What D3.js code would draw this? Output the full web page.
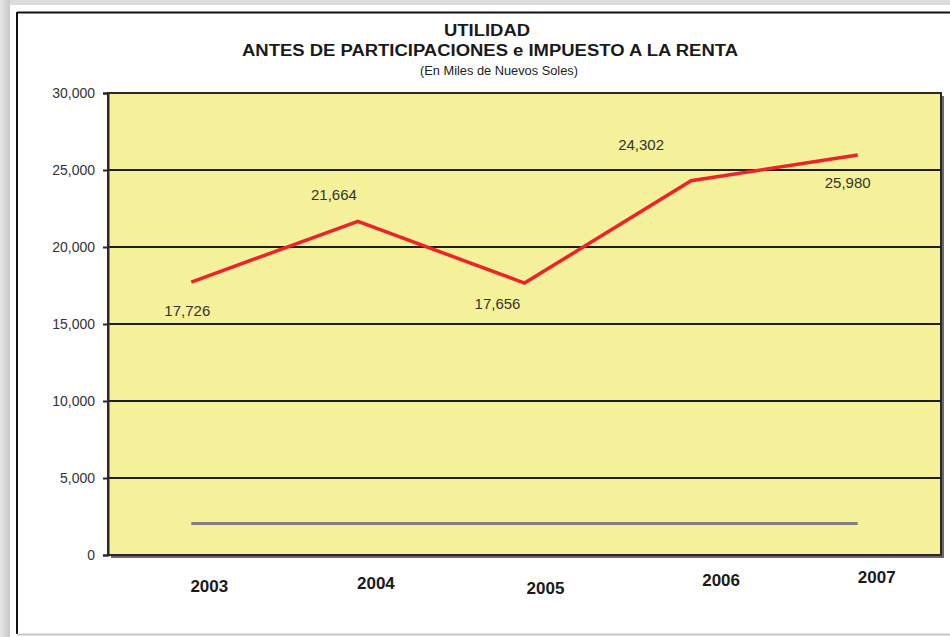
<!DOCTYPE html>
<html>
<head>
<meta charset="utf-8">
<script src="https://cdn.jsdelivr.net/npm/d3@7"></script>
<style>
  body { margin: 0; background: #fff; }
  svg text { font-family: "Liberation Sans", Arial, sans-serif; }
</style>
</head>
<body>
<svg id="chart" width="950" height="637"></svg>
<script>
// data
var years = ["2003", "2004", "2005", "2006", "2007"];
var utilidad = [17726, 21664, 17656, 24302, 25980];
var baseSerie = [2050, 2050, 2050, 2050, 2050];
var yTicks = [0, 5000, 10000, 15000, 20000, 25000, 30000];

// label nudges (excel left them scattered)
var labelOff = [[-4, 29], [-24, -26], [-27, 21], [-50, -36], [-10, 28]];
var yearOff = [[18, 586], [18, 583], [21, 588], [30, 580], [19, 577]];

(function () {
var svg = d3.select("#chart");
var W = 950, H = 637;
var pLeft = 108, pRight = 941, pTop = 93, pBottom = 555;

// frame + shadow
var defs = svg.append("defs");
var gl = defs.append("linearGradient").attr("id", "shL").attr("x1", 0).attr("x2", 1);
gl.append("stop").attr("offset", 0).attr("stop-color", "#e6e6e6");
gl.append("stop").attr("offset", 1).attr("stop-color", "#c8c8c8");
svg.append("rect").attr("x", 0).attr("y", 0).attr("width", W).attr("height", 5).attr("fill", "#dcdcdc");
svg.append("rect").attr("x", 0).attr("y", 0).attr("width", 10).attr("height", H).attr("fill", "url(#shL)");
svg.append("rect").attr("x", 10).attr("y", 5).attr("width", W).attr("height", 7).attr("fill", "#fff");
svg.append("rect").attr("x", 17).attr("y", 12).attr("width", W).attr("height", 622).attr("fill", "#fff");
svg.append("line").attr("x1", 17).attr("x2", W).attr("y1", 12.5).attr("y2", 12.5)
    .attr("stroke", "#111").attr("stroke-width", 2);
svg.append("line").attr("x1", 17).attr("x2", 17).attr("y1", 12).attr("y2", 634)
    .attr("stroke", "#111").attr("stroke-width", 2);
svg.append("line").attr("x1", 17).attr("x2", W).attr("y1", 634.5).attr("y2", 634.5)
    .attr("stroke", "#c8c8c8").attr("stroke-width", 2);

// titles
svg.append("text").attr("x", 487).attr("y", 36).attr("text-anchor", "middle")
    .attr("font-size", 16).attr("font-weight", "bold").attr("fill", "#1a1a1a")
    .attr("textLength", 86).attr("lengthAdjust", "spacingAndGlyphs").text("UTILIDAD");
svg.append("text").attr("x", 490).attr("y", 56).attr("text-anchor", "middle")
    .attr("font-size", 16).attr("font-weight", "bold").attr("fill", "#1a1a1a")
    .attr("textLength", 496).attr("lengthAdjust", "spacingAndGlyphs")
    .text("ANTES DE PARTICIPACIONES e IMPUESTO A LA RENTA");
svg.append("text").attr("x", 499).attr("y", 75).attr("text-anchor", "middle")
    .attr("font-size", 12).attr("fill", "#222")
    .attr("textLength", 158).attr("lengthAdjust", "spacingAndGlyphs")
    .text("(En Miles de Nuevos Soles)");

//scales
var x = d3.scalePoint().domain(years).range([pLeft, pRight]).padding(0.5);
var y = d3.scaleLinear().domain([0, 30000]).range([pBottom, pTop]);

// plot area
svg.append("rect").attr("x", pLeft + 3).attr("y", pTop + 3).attr("width", pRight - pLeft).attr("height", pBottom - pTop)
    .attr("fill", "#6a6a6a");
svg.append("rect").attr("x", pLeft).attr("y", pTop).attr("width", pRight - pLeft).attr("height", pBottom - pTop)
    .attr("fill", "#f5f19a").attr("stroke", "#2a2a2a").attr("stroke-width", 2);

// grid
svg.append("g").selectAll("line").data(yTicks.slice(1, -1)).enter().append("line")
    .attr("x1", pLeft).attr("x2", pRight)
    .attr("y1", d => y(d)).attr("y2", d => y(d))
    .attr("stroke", "#1e1e1e").attr("stroke-width", 2);

// y axis
var yAxis = svg.append("g").attr("transform", "translate(" + pLeft + ",0)")
    .call(d3.axisLeft(y).tickValues(yTicks).tickSize(5).tickPadding(8).tickFormat(d3.format(",")));
yAxis.select(".domain").attr("stroke", "#2a2a2a").attr("stroke-width", 2);
yAxis.selectAll(".tick line").attr("stroke", "#2a2a2a").attr("stroke-width", 2);
yAxis.selectAll("text").attr("font-size", 14).attr("fill", "#333")
    .style("font-family", "'Liberation Sans', Arial, sans-serif");

// x labels
svg.append("g").selectAll("text").data(years).enter().append("text")
    .attr("x", (d, i) => x(d) + yearOff[i][0])
    .attr("y", (d, i) => yearOff[i][1] + 6)
    .attr("text-anchor", "middle").attr("font-size", 17).attr("font-weight", "bold")
    .attr("fill", "#1a1a1a").text(d => d);

// gray series
var line = d3.line().x((d, i) => x(years[i])).y(d => y(d));
svg.append("path").datum(baseSerie).attr("d", line)
    .attr("fill", "none").attr("stroke", "#808080").attr("stroke-width", 3);

// red series
svg.append("path").datum(utilidad).attr("d", line)
    .attr("fill", "none").attr("stroke", "#ee2229").attr("stroke-width", 3.5)
    .attr("stroke-linejoin", "miter");

// value labels
svg.append("g").selectAll("text").data(utilidad).enter().append("text")
    .attr("x", (d, i) => x(years[i]) + labelOff[i][0])
    .attr("y", (d, i) => y(d) + labelOff[i][1] + 5)
    .attr("text-anchor", "middle").attr("font-size", 15).attr("fill", "#333")
    .text(d => d3.format(",")(d));
})();
</script>
</body>
</html>
